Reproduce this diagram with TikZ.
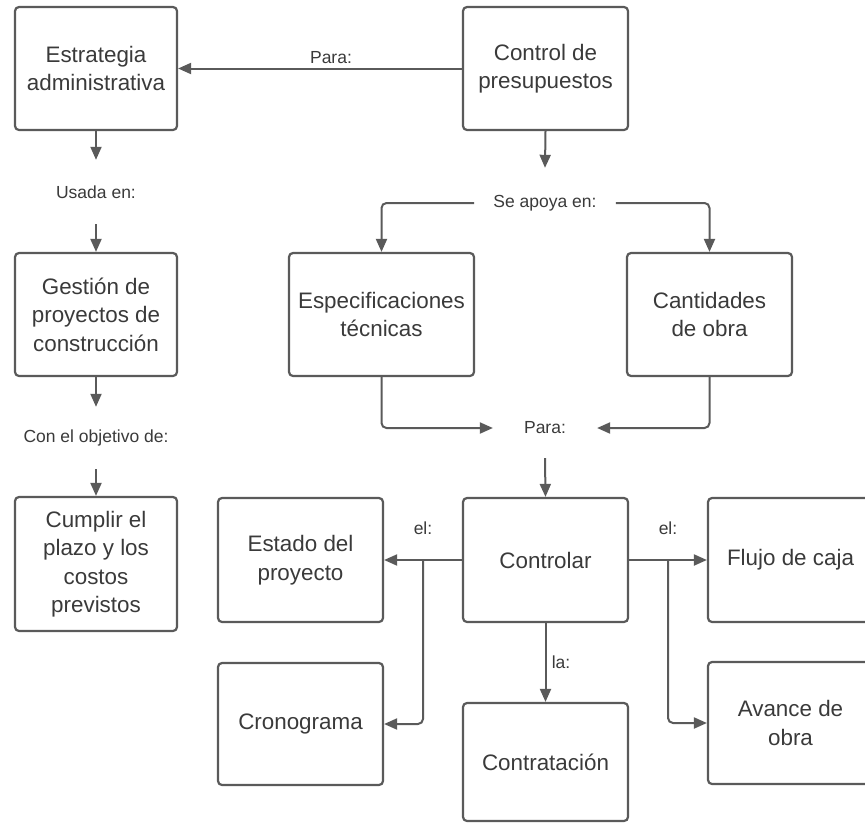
\documentclass[tikz,border=0pt]{standalone}
\usepackage{fontspec}
\setmainfont{Liberation Sans}
\usetikzlibrary{arrows.meta}
\definecolor{edge}{HTML}{5A5A5A}
\definecolor{ink}{HTML}{3A3A3A}
\tikzset{
  box/.style={draw=edge, line width=2.2pt, rounded corners=4pt, align=center,
    text=ink, font=\fontsize{22.4}{28.5}\selectfont, inner sep=0pt,
    minimum width=165pt, minimum height=123pt},
  lab/.style={text=ink, font=\fontsize{17.5}{21}\selectfont, inner sep=0pt},
  conn/.style={draw=edge, line width=2pt, rounded corners=5pt,
    -{Triangle[length=13pt,width=11pt]}},
}
\begin{document}
\begin{tikzpicture}[x=1pt,y=-1pt]
\useasboundingbox (0,0) rectangle (865,827);
\clip (0,0) rectangle (865,827);

% left column
\node[box, minimum width=162pt] (estr) at (96,68.5) {Estrategia\\administrativa};
\node[lab, minimum height=64pt] (usada) at (96,192) {Usada en:};
\node[box, minimum width=162pt] (gest) at (96,314.5) {Gestión de\\proyectos de\\construcción};
\node[lab, minimum height=62pt] (obj) at (96,438) {Con el objetivo de:};
\node[box, minimum width=162pt, minimum height=134pt] (cump) at (96,564) {Cumplir el\\plazo y los\\costos\\previstos};

% budget control branch
\node[box] (pres) at (545.5,68.5) {Control de\\presupuestos};
\node[lab] (para1) at (331,58) {Para:};
\node[lab, minimum height=70pt, inner xsep=19pt] (apoya) at (545,203) {Se apoya en:};
\node[box, minimum width=185pt] (espec) at (381.5,314.5) {Especificaciones\\técnicas};
\node[box] (cant) at (709.5,314.5) {Cantidades\\de obra};
\node[lab, minimum height=60pt, inner xsep=31pt] (para2) at (545,428) {Para:};

% control targets
\node[box, minimum height=124pt] (ctrl) at (545.5,560) {Controlar};
\node[box, minimum height=124pt] (estado) at (300.5,560) {Estado del\\proyecto};
\node[box, minimum height=124pt] (flujo) at (790.5,560) {Flujo de caja};
\node[box, minimum height=122pt] (crono) at (300.5,724) {Cronograma};
\node[box, minimum height=122pt] (avance) at (790.5,723) {Avance de\\obra};
\node[box, minimum height=118pt] (contr) at (545.5,762) {Contratación};
\node[lab] (el1) at (423,528) {el:};
\node[lab] (el2) at (668,528) {el:};
\node[lab] (la) at (561,662) {la:};

% branch points on the side connectors
\coordinate (bl) at (423,560);
\coordinate (br) at (668,560);

% connectors
\draw[conn] (pres.west) -- (estr.east);
\draw[conn] (estr.south) -- (usada.north);
\draw[conn] (usada.south) -- (gest.north);
\draw[conn] (gest.south) -- (obj.north);
\draw[conn] (obj.south) -- (cump.north);

\draw[conn] (pres.south) -- (apoya.north);
\draw[conn] (apoya.west) -| (espec.north);
\draw[conn] (apoya.east) -| (cant.north);
\draw[conn] (espec.south) |- (para2.west);
\draw[conn] (cant.south) |- (para2.east);
\draw[conn] (para2.south) -- (ctrl.north);

\draw[conn] (ctrl.west) -- (estado.east);
\draw[conn] (bl) |- (crono.east);
\draw[conn] (ctrl.east) -- (flujo.west);
\draw[conn] (br) |- (avance.west);
\draw[conn] (ctrl.south) -- (contr.north);
\end{tikzpicture}
\end{document}
